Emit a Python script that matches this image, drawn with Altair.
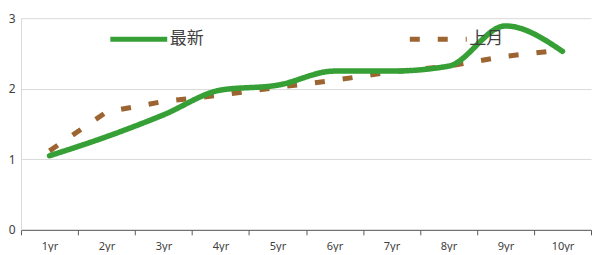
import altair as alt
import pandas as pd

categories = ["1yr", "2yr", "3yr", "4yr", "5yr", "6yr", "7yr", "8yr", "9yr", "10yr"]
latest = [1.05, 1.32, 1.63, 1.98, 2.05, 2.25, 2.25, 2.32, 2.89, 2.53]
last_month = [1.12, 1.67, 1.82, 1.91, 2.02, 2.12, 2.24, 2.32, 2.46, 2.55]
series_names = ["最新", "上月"]
series_colors = ["#36a036", "#9c6430"]

rows = []
for c, v in zip(categories, latest):
    rows.append({"cat": c, "val": v, "series": series_names[0]})
for c, v in zip(categories, last_month):
    rows.append({"cat": c, "val": v, "series": series_names[1]})
df = pd.DataFrame(rows)

x = alt.X("cat:N", sort=categories, title=None,
          scale=alt.Scale(paddingInner=0, paddingOuter=0),
          axis=alt.Axis(labelAngle=0, tickBand="extent", tickSize=5,
                        domainColor="#595959", tickColor="#595959",
                        labelColor="#404040", labelFontSize=11, labelPadding=6,
                        labelFont="Noto Sans", grid=False))
y = alt.Y("val:Q", title=None,
          scale=alt.Scale(domain=[0, 3], nice=False),
          axis=alt.Axis(values=[0, 1, 2, 3], ticks=False, domainColor="#d9d9d9",
                        gridColor="#d9d9d9", labelColor="#404040", labelFontSize=12,
                        labelPadding=6, labelFont="Noto Sans"))

color = alt.Color("series:N", sort=series_names,
                  scale=alt.Scale(domain=series_names, range=series_colors),
                  legend=alt.Legend(title=None, orient="none", legendX=87, legendY=-10,
                                    direction="horizontal", symbolType="stroke",
                                    symbolSize=3249, symbolStrokeWidth=5,
                                    labelFontSize=17, labelFont="Noto Sans CJK SC",
                                    labelColor="#404040", columnPadding=196,
                                    labelOffset=0, padding=0))
dash = alt.StrokeDash("series:N", sort=series_names,
                      scale=alt.Scale(domain=series_names, range=[[1, 0], [10, 18]]),
                      legend=None)

green = alt.Chart(df).transform_filter(alt.datum.series == series_names[0]).mark_line(
    interpolate="monotone", strokeWidth=5.5, strokeCap="round"
).encode(x=x, y=y, color=color, strokeDash=dash)

brown = alt.Chart(df).transform_filter(alt.datum.series == series_names[1]).mark_line(
    strokeWidth=5
).encode(x=x, y=y, color=color, strokeDash=dash)

chart = alt.layer(brown, green).properties(
    width=571, height=212,
    padding={"left": 0, "top": 0, "right": 0, "bottom": 0}
).configure_view(stroke=None)

chart.save("out.html", embed_options={"renderer": "svg", "actions": False})
